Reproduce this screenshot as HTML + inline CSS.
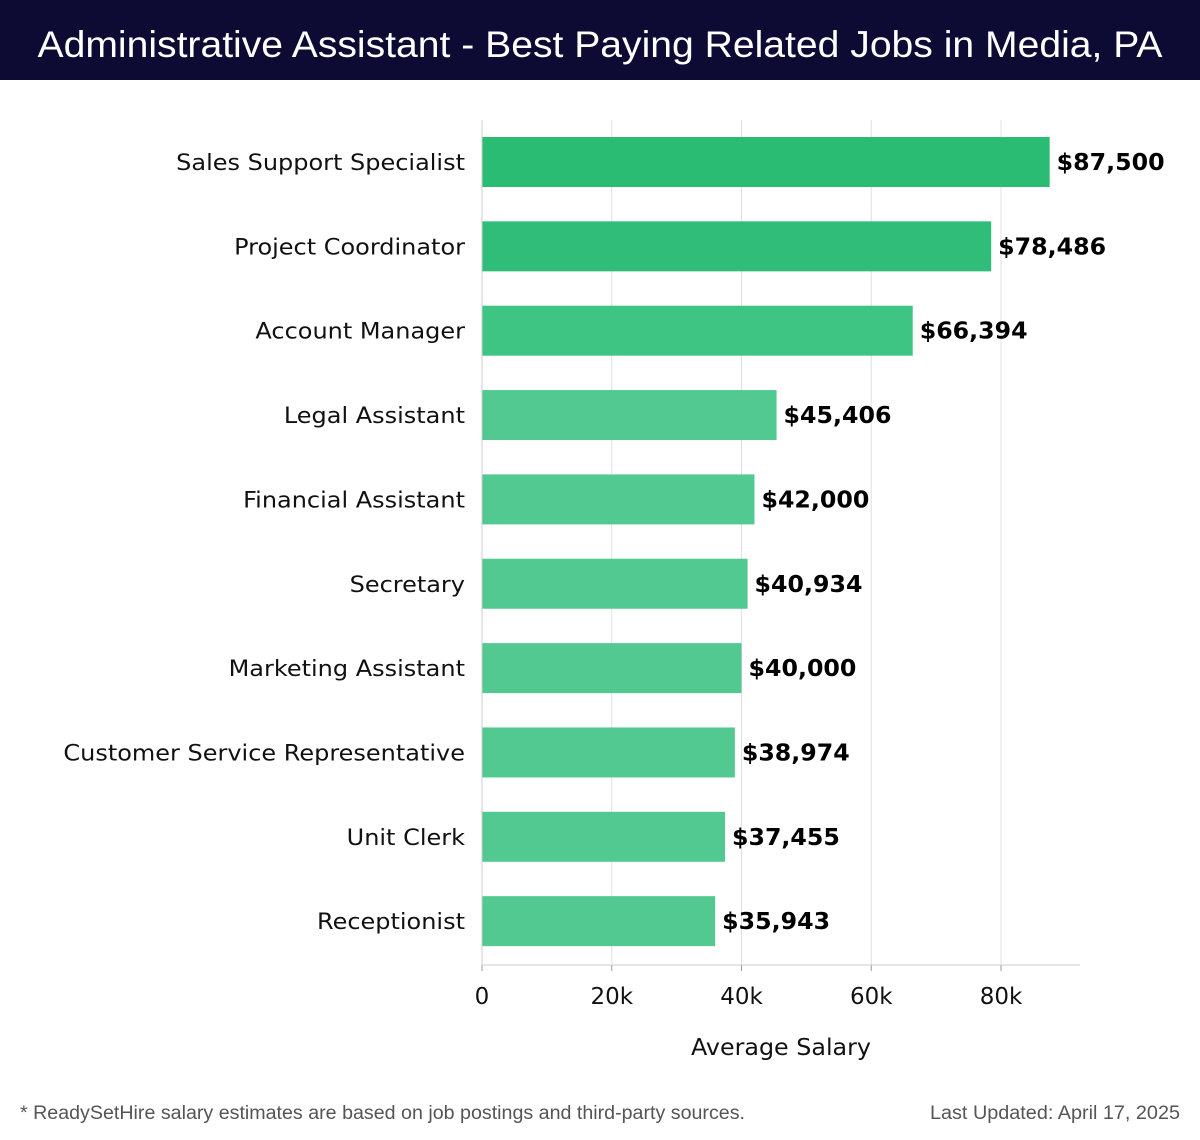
<!DOCTYPE html>
<html><head><meta charset="utf-8"><style>
html,body{margin:0;padding:0;background:#fff;}
svg{display:block;}
</style></head><body>
<svg id="chart" width="1200" height="1140" viewBox="0 0 1200 1140" xmlns="http://www.w3.org/2000/svg">
<rect x="0" y="0" width="1200" height="80" fill="#0d0b33"/>
<text x="600" y="57" text-anchor="middle" fill="#fff" font-family="Liberation Sans, sans-serif" font-size="37" textLength="1125" lengthAdjust="spacingAndGlyphs">Administrative Assistant - Best Paying Related Jobs in Media, PA</text>
<g id="grid"></g>
<g id="bars"></g>
<g id="axis"></g>
<text x="781" y="1055" text-anchor="middle" font-family="DejaVu Sans, sans-serif" font-size="23" textLength="180" lengthAdjust="spacingAndGlyphs" fill="#111">Average Salary</text>
<text x="20" y="1119" font-family="Liberation Sans, sans-serif" font-size="19" textLength="725" lengthAdjust="spacingAndGlyphs" fill="#555">* ReadySetHire salary estimates are based on job postings and third-party sources.</text>
<text x="1180" y="1119" text-anchor="end" font-family="Liberation Sans, sans-serif" font-size="19" textLength="250" lengthAdjust="spacingAndGlyphs" fill="#555">Last Updated: April 17, 2025</text>
</svg>
<script>
const categories = ["Sales Support Specialist","Project Coordinator","Account Manager","Legal Assistant","Financial Assistant","Secretary","Marketing Assistant","Customer Service Representative","Unit Clerk","Receptionist"];
const salaries = [87500,78486,66394,45406,42000,40934,40000,38974,37455,35943];
const valueLabels = ["$87,500","$78,486","$66,394","$45,406","$42,000","$40,934","$40,000","$38,974","$37,455","$35,943"];
const tickValues = [0,20000,40000,60000,80000];
const tickLabels = ["0","20k","40k","60k","80k"];

const NS="http://www.w3.org/2000/svg";
const x0=482, pxPer=129.75/20000, xEnd=1080;
const yTop=120, yBottom=965, step=84.35, barH=50, firstCenter=162;
function xs(v){return x0+v*pxPer;}
function yc(i){return firstCenter+i*step;}
function mk(tag,attrs,parent){const e=document.createElementNS(NS,tag);for(const k in attrs)e.setAttribute(k,attrs[k]);parent.appendChild(e);return e;}
function stretch(el,f){const w=el.getComputedTextLength();el.setAttribute('textLength',w*f);el.setAttribute('lengthAdjust','spacingAndGlyphs');}
const grid=document.getElementById('grid'),bars=document.getElementById('bars'),axis=document.getElementById('axis');
tickValues.forEach((t,i)=>{
  const l=mk('line',{x1:xs(t),x2:xs(t),y1:yTop,y2:yBottom,stroke:'#e0e0e0','stroke-width':1},grid);
  
  
  const tk=mk('line',{x1:xs(t),x2:xs(t),y1:yBottom,y2:yBottom+6,stroke:'#999','stroke-width':1},axis);
  
  
  const tx=mk('text',{x:xs(t),y:1004,'text-anchor':'middle','font-family':'DejaVu Sans, sans-serif','font-size':23,fill:'#111'},axis);
  tx.textContent=tickLabels[i];
  
  
});
const ax=mk('line',{x1:x0,x2:xEnd,y1:yBottom,y2:yBottom,stroke:'#ccc','stroke-width':1},axis);


const yl=mk('line',{x1:x0,x2:x0,y1:yTop,y2:yBottom,stroke:'#ccc','stroke-width':1},axis);


const colors=['#2abc73','#30bd79','#3ec483'];
categories.forEach((c,i)=>{
  const y=yc(i);
  const r=mk('rect',{x:x0,y:y-barH/2,width:xs(salaries[i])-x0,height:barH,fill:colors[i]||'#52c990'},bars);
  
  
  const lb=mk('text',{x:465,y:y+8,'text-anchor':'end','font-family':'DejaVu Sans, sans-serif','font-size':22,fill:'#111'},bars);
  lb.textContent=c;
  
  
  stretch(lb,1.09);
  const vl=mk('text',{x:xs(salaries[i])+7,y:y+8,'font-family':'DejaVu Sans, sans-serif','font-size':23,'font-weight':'bold',fill:'#000'},bars);
  vl.textContent=valueLabels[i];
  
  
  stretch(vl,1.03);
});
</script>
</body></html>
